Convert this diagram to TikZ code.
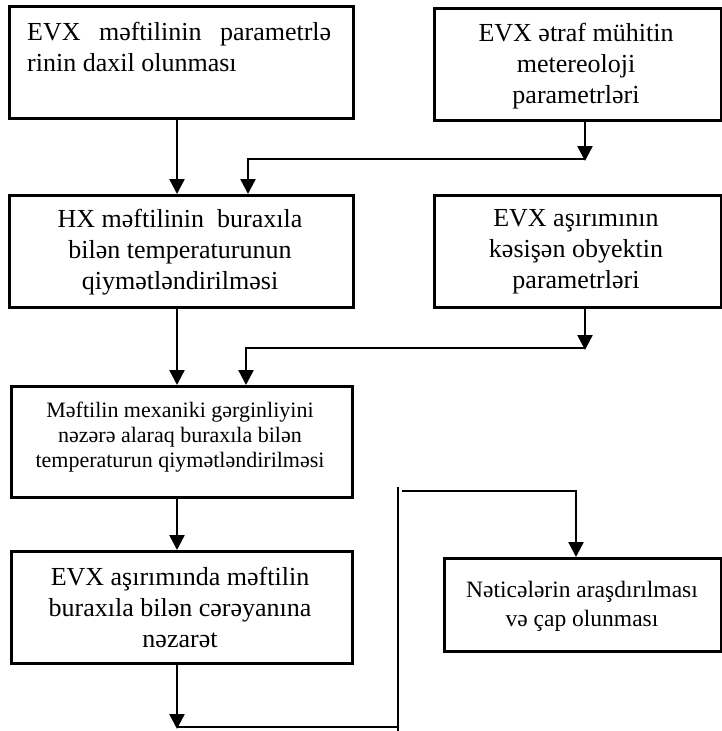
\documentclass[tikz,border=0pt]{standalone}
\usepackage{fontspec}
\setmainfont{Liberation Serif}
\usetikzlibrary{arrows.meta}
\begin{document}
\begin{tikzpicture}[x=1pt,y=-1pt,
  box/.style={draw, line width=2.7pt, inner sep=0pt, anchor=north west},
  conn/.style={line width=2.4pt},
  arr/.style={conn, -{Triangle[width=15pt,length=15pt]}},
  big/.style={font=\fontsize{26}{31}\selectfont, align=center, inner sep=0pt},
  mid/.style={font=\fontsize{23.5}{29}\selectfont, align=center, inner sep=0pt},
  small/.style={font=\fontsize{22}{25}\selectfont, align=center, inner sep=0pt}]
\useasboundingbox (0,0) rectangle (721,731);
% boxes
\node[box, minimum width=344pt, minimum height=112pt] (A) at (8,5) {};
\node[box, minimum width=287pt, minimum height=112pt] (B) at (433,7) {};
\node[box, minimum width=344pt, minimum height=112pt] (C) at (8,194) {};
\node[box, minimum width=287pt, minimum height=112pt] (D) at (433,194) {};
\node[box, minimum width=341pt, minimum height=111pt] (E) at (10,385) {};
\node[box, minimum width=341pt, minimum height=112pt] (F) at (10,550) {};
\node[box, minimum width=277pt, minimum height=93pt] (G) at (443,557) {};
% texts
\node[big, align=left, anchor=north west] (tA) at (27,22) {\makebox[304pt][s]{EVX məftilinin parametrlə}\\rinin daxil olunması};
\node[big] (tB) at (576,66) {EVX ətraf mühitin\\metereoloji\\parametrləri};
\node[big] (tC) at (180,252) {HX məftilinin\ \ buraxıla\\bilən temperaturunun\\qiymətləndirilməsi};
\node[big] (tD) at (576,252) {EVX aşırımının\\kəsişən obyektin\\parametrləri};
\node[small] (tE) at (180,437) {Məftilin mexaniki gərginliyini\\nəzərə alaraq buraxıla bilən\\temperaturun qiymətləndirilməsi};
\node[big] (tF) at (180,607) {EVX aşırımında məftilin\\buraxıla bilən cərəyanına\\nəzarət};
\node[mid] (tG) at (582,606) {Nəticələrin araşdırılması\\və çap olunması};
% junction points
\coordinate (j1) at (585,159);
\coordinate (j2) at (248,159);
\coordinate (j3) at (585,348);
\coordinate (j4) at (246,348);
\coordinate (j5) at (177,727);
\coordinate (j6) at (398,727);
\coordinate (j7) at (398,487);
\coordinate (j8) at (402,491);
\coordinate (j9) at (576,491);
% connectors
\draw[arr] (A.south -| 177,0) -- (C.north -| 177,0);
\draw[arr] (B.south -| j1) -- ([yshift=-2pt]j1);
\draw[arr] (j1) -- (j2) -- (C.north -| j2);
\draw[arr] (C.south -| 177,0) -- (E.north -| 177,0);
\draw[arr] (D.south -| j3) -- ([yshift=-2pt]j3);
\draw[arr] (j3) -- (j4) -- (E.north -| j4);
\draw[arr] (E.south -| 177,0) -- (F.north -| 177,0);
\draw[arr] (F.south -| j5) -- ([yshift=-2pt]j5);
\draw[conn] (j5) -- (j6);
\draw[conn] (398,731) -- (j7);
\draw[arr] (j8) -- (j9) -- (G.north -| j9);
\end{tikzpicture}
\end{document}
